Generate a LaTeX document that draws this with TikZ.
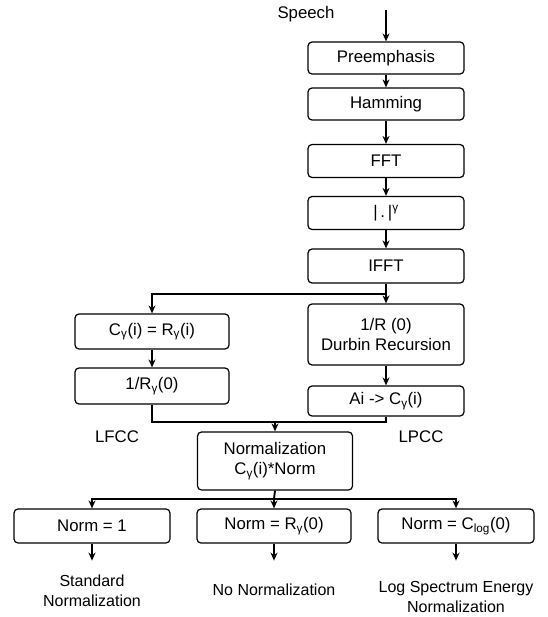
\documentclass[tikz,border=0pt]{standalone}
\usepackage{fontspec}
\setmainfont{Liberation Sans}
\usepackage{tikz}
\usetikzlibrary{positioning, arrows.meta}

\tikzset{
  box/.style={draw, line width=1.2pt, rounded corners=4pt, align=center,
    minimum width=156pt, minimum height=33pt, inner sep=0pt},
  flow/.style={line width=1.9pt, -{Stealth[length=8pt, width=7pt]}},
  wire/.style={line width=1.9pt},
  caption/.style={align=center}
}

\begin{document}
\begin{tikzpicture}[x=1pt, y=-1pt, font=\fontsize{16.8}{20}\selectfont]
    \useasboundingbox (0,0) rectangle (547,617);

    % Main column
    \node[caption] (speech) at (306,14) {Speech};
    \coordinate (in) at (386,10);
    \node[box, minimum height=32pt] (pre)  at (386,58)  {Preemphasis};
    \node[box, minimum height=32pt] (ham)  at (386,104) {Hamming};
    \node[box] (fft)  at (386,161) {FFT};
    \node[box] (pow)  at (386,213) {|\,.\,|\textsuperscript{γ}};
    \node[box, minimum height=34pt] (ifft) at (386,266) {IFFT};
    \node[box, minimum height=61pt] (durbin) at (386,334.5) {1/R (0)\\Durbin Recursion};
    \node[box, minimum height=30pt] (ai) at (386,401) {Ai -> C\textsubscript{γ}(i)};

    % Left column
    \node[box, minimum width=154pt, minimum height=35pt] (cgam) at (152,331.5) {C\textsubscript{γ}(i) = R\textsubscript{γ}(i)};
    \node[box, minimum width=154pt, minimum height=36pt] (rinv) at (152,386) {1/R\textsubscript{γ}(0)};

    \node[caption] (lfcc) at (117,437) {LFCC};
    \node[caption] (lpcc) at (421,437) {LPCC};

    \node[box, minimum width=155pt, minimum height=58pt] (norm) at (275,461) {Normalization\\C\textsubscript{γ}(i)*Norm};

    % Normalization choices
    \node[box, minimum height=34pt] (n1) at (92,526)  {Norm = 1};
    \node[box, minimum width=154pt, minimum height=34pt] (n2) at (274,526) {Norm = R\textsubscript{γ}(0)};
    \node[box, minimum height=34pt] (n3) at (456,526) {Norm = C\textsubscript{log}(0)};

    \node[caption, font=\fontsize{16}{19.5}\selectfont] (std)  at (92,591)  {Standard\\Normalization};
    \node[caption, font=\fontsize{16}{19.5}\selectfont] (none) at (274,590) {No Normalization};
    \node[caption, font=\fontsize{16}{19.5}\selectfont] (logs) at (456,597) {Log Spectrum Energy\\Normalization};

    % Connectors
    \draw[flow] (in) -- (pre.north);
    \foreach \a/\b in {pre/ham, ham/fft, fft/pow, pow/ifft, ifft/durbin, durbin/ai, cgam/rinv} {
      \draw[flow] (\a.south) -- (\b.north);
    }

    \coordinate (split) at (386,294);
    \draw[flow] (split) -| (cgam.north);

    \coordinate (merge) at (275,422);
    \draw[wire] (rinv.south) |- (merge);
    \draw[wire] (ai.south) |- (merge);
    \draw[flow] (merge) -- (norm.north);

    \coordinate (fan) at (274,499);
    \draw[wire] (norm.south) -- (fan);
    \draw[flow] (fan) -| (n1.north);
    \draw[flow] (fan) -| (n3.north);
    \draw[flow] (fan) -- (n2.north);

    \foreach \n in {n1, n2, n3} {
      \draw[flow] (\n.south) -- ++(0,17);
    }

  \end{tikzpicture}
\end{document}
